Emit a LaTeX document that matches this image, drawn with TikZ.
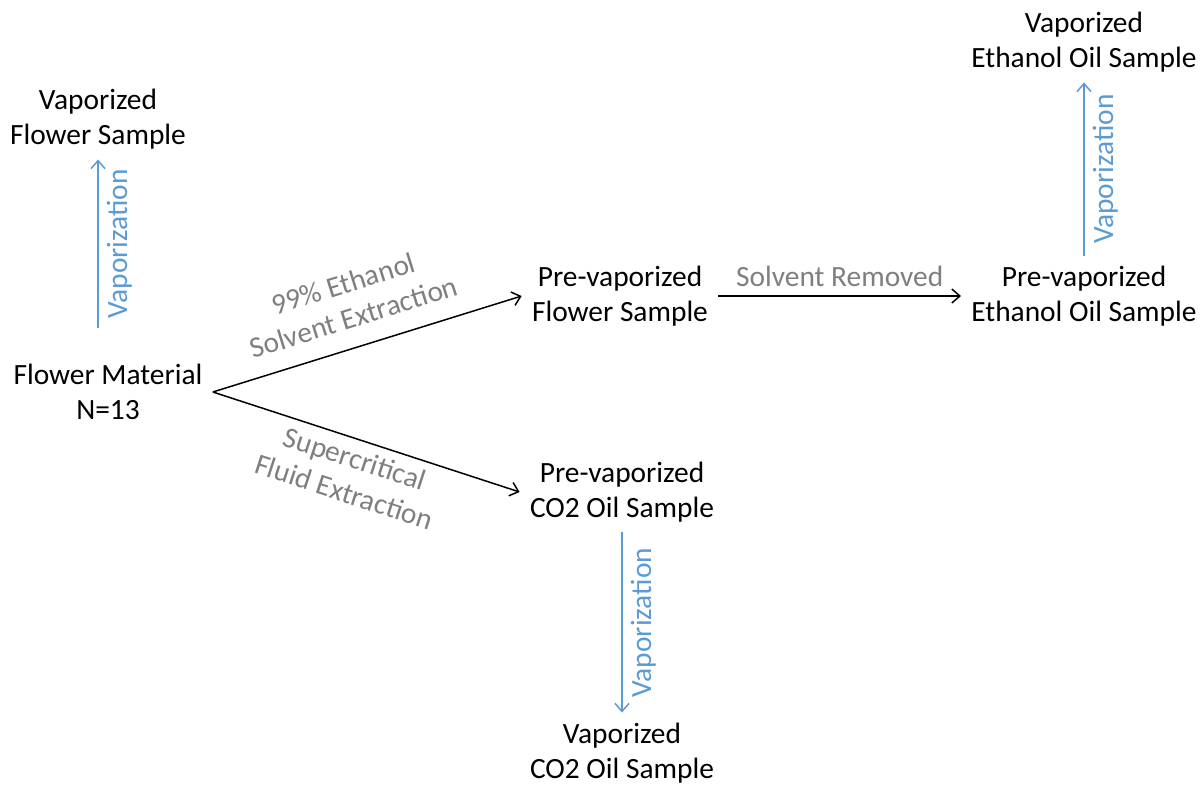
\documentclass[tikz,border=0pt]{standalone}
\usepackage{fontspec}
\setmainfont{Carlito}
\usetikzlibrary{arrows.meta}
\definecolor{vapblue}{HTML}{5B9BD5}
\definecolor{labelgray}{HTML}{7F7F7F}
\begin{document}
\begin{tikzpicture}[x=0.5pt, y=0.5pt,
    sample/.style={align=center, inner sep=5pt, font=\fontsize{14.7pt}{17.5pt}\selectfont},
    flow/.style={-{Straight Barb[length=4pt,width=7pt]}, line width=0.75pt},
    vap/.style={flow, vapblue},
    proclabel/.style={labelgray, align=center, sloped, font=\fontsize{14.7pt}{17.5pt}\selectfont},
    vaplabel/.style={vapblue, rotate=90, anchor=north, inner sep=4pt, font=\fontsize{14.7pt}{17.5pt}\selectfont}]
          \useasboundingbox (0,0) rectangle (1203,784);

          \node[sample] (fm) at (108,392) {Flower Material\\N=13};
          \node[sample] (vf) at (98,665) {Vaporized\\Flower Sample};
          \node[sample] (pf) at (620,488) {Pre-vaporized\\Flower Sample};
          \node[sample] (pc) at (622,292) {Pre-vaporized\\CO2 Oil Sample};
          \node[sample] (vc) at (622,31) {Vaporized\\CO2 Oil Sample};
          \node[sample] (pe) at (1084,488) {Pre-vaporized\\Ethanol Oil Sample};
          \node[sample] (ve) at (1084,742) {Vaporized\\Ethanol Oil Sample};
          \coordinate (vfbase) at (98,456);

          \draw[flow] (fm.east) -- node[proclabel, pos=0.485, above=6pt] {99\% Ethanol\\Solvent Extraction} (pf.west);
          \draw[flow] (fm.east) -- node[proclabel, pos=0.483, below=0.7pt] {Supercritical\\Fluid Extraction} (pc.west);
          \draw[flow] (pf.east) -- node[proclabel, above=1pt] {Solvent Removed} (pe.west);

          \draw[vap] (vfbase) -- node[vaplabel] {Vaporization} (vf.south);
          \draw[vap] (pe.north) -- node[vaplabel] {Vaporization} (ve.south);
          \draw[vap] (pc.south) -- node[vaplabel] {Vaporization} (vc.north);
        \end{tikzpicture}
\end{document}
